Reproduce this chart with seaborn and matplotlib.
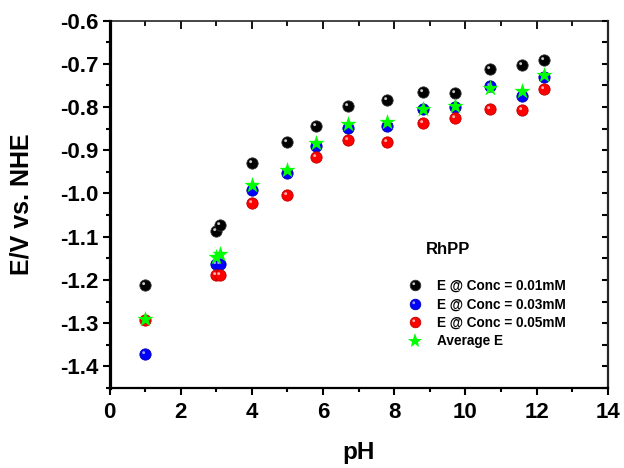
import numpy as np
import pandas as pd
import matplotlib
matplotlib.use("Agg")
import matplotlib.pyplot as plt
import seaborn as sns
from matplotlib.path import Path
from matplotlib.lines import Line2D
from matplotlib.legend_handler import HandlerTuple
from matplotlib.ticker import MultipleLocator

# ---- data ----
ph = [1.0, 3.0, 3.1, 4.0, 5.0, 5.8, 6.7, 7.8, 8.8, 9.7, 10.7, 11.6, 12.2]
e_001 = [-1.212, -1.086, -1.072, -0.929, -0.881, -0.845, -0.797, -0.784, -0.766, -0.767, -0.713, -0.703, -0.691]
e_003 = [-1.372, -1.163, -1.163, -0.991, -0.953, -0.891, -0.848, -0.843, -0.804, -0.801, -0.751, -0.774, -0.731]
e_005 = [-1.292, -1.188, -1.188, -1.022, -1.004, -0.916, -0.876, -0.882, -0.838, -0.825, -0.804, -0.808, -0.759]
e_avg = [-1.291, -1.146, -1.140, -0.980, -0.946, -0.883, -0.840, -0.835, -0.804, -0.797, -0.755, -0.762, -0.727]
labels = ["E @ Conc = 0.01mM", "E @ Conc = 0.03mM", "E @ Conc = 0.05mM", "Average E"]
x_ticks = [0, 2, 4, 6, 8, 10, 12, 14]
y_ticks = [-1.4, -1.3, -1.2, -1.1, -1.0, -0.9, -0.8, -0.7, -0.6]

sns.set_style("white")
plt.rcParams["font.family"] = ["Liberation Sans", "DejaVu Sans"]
plt.rcParams["font.weight"] = "bold"
plt.rcParams["text.color"] = "black"
plt.rcParams["axes.labelcolor"] = "black"
plt.rcParams["xtick.color"] = "black"
plt.rcParams["ytick.color"] = "black"

fig = plt.figure(figsize=(6.24, 4.68), dpi=100)
ax = fig.add_axes([0.1755, 0.171, 0.7985, 0.785])

# highlight marker: small circle offset to upper-left, with invisible moveto points for scaling
circ = Path.circle(center=(-0.33, 0.33), radius=0.26)
hl_verts = np.vstack([[[1.0, 1.0]], [[-1.0, -1.0]], circ.vertices])
hl_codes = np.concatenate([[Path.MOVETO, Path.MOVETO], circ.codes])
hl_path = Path(hl_verts, hl_codes)

sphere_series = [
    (e_001, "#000000", "#c8c8c8", "#333333"),
    (e_003, "#0000ff", "#9c9cff", "#0000b0"),
    (e_005, "#ff0000", "#ffb0b0", "#c00000"),
]
S = 66
for vals, col, hl, edge in sphere_series:
    df = pd.DataFrame({"pH": ph, "E": vals})
    sns.scatterplot(data=df, x="pH", y="E", ax=ax, color=col, marker="o", s=S,
                    edgecolor=edge, linewidth=0.6, zorder=3, legend=False)
    sns.scatterplot(data=df, x="pH", y="E", ax=ax, color=hl, marker=hl_path, s=S,
                    linewidth=0, zorder=3.1, legend=False)

df_avg = pd.DataFrame({"pH": ph, "E": e_avg})
sns.scatterplot(data=df_avg, x="pH", y="E", ax=ax, color="#00ff00", marker="*", s=150,
                linewidth=0, zorder=4, legend=False)

ax.set_xlim(0, 14)
ax.set_ylim(-1.45, -0.6)
ax.set_xticks(x_ticks)
ax.set_yticks(y_ticks)
ax.set_yticklabels([f"{v:.1f}" for v in y_ticks])
ax.xaxis.set_minor_locator(MultipleLocator(1))
ax.yaxis.set_minor_locator(MultipleLocator(0.05))
ax.tick_params(axis="both", which="major", direction="out", length=5, width=1.5,
               labelsize=16, colors="black")
ax.tick_params(axis="both", which="minor", direction="out", length=3, width=1.5)
ax.tick_params(axis="x", which="both", bottom=True, top=False, pad=5)
ax.tick_params(axis="y", which="both", left=True, right=False, pad=3)
for lab in ax.get_xticklabels() + ax.get_yticklabels():
    lab.set_fontweight("bold")

ax.spines["left"].set_linewidth(2.3)
ax.spines["bottom"].set_linewidth(1.6)
ax.spines["top"].set_visible(False)
ax.spines["right"].set_visible(False)
for s in ax.spines.values():
    s.set_color("black")

top = ax.secondary_xaxis("top")
top.set_xticks(x_ticks)
top.xaxis.set_minor_locator(MultipleLocator(1))
top.tick_params(which="major", direction="in", length=6, width=1.3, labeltop=False)
top.tick_params(which="minor", direction="in", length=3.5, width=1.3)
top.spines["top"].set_linewidth(1.2)

right = ax.secondary_yaxis("right")
right.set_yticks(y_ticks)
right.yaxis.set_minor_locator(MultipleLocator(0.05))
right.tick_params(which="major", direction="in", length=4, width=1.5, labelright=False)
right.tick_params(which="minor", direction="in", length=4, width=1.5)
right.spines["right"].set_linewidth(1.6)

ax.set_xlabel("pH", fontsize=17.5, fontweight="bold", labelpad=13, color="black")
ax.set_ylabel("E/V vs. NHE", fontsize=18, fontweight="bold", labelpad=19, color="black")

# legend
handles = []
for vals, col, hl, edge in sphere_series:
    base = Line2D([], [], linestyle="none", marker="o", markersize=7.6, markerfacecolor=col,
                  markeredgecolor=edge, markeredgewidth=0.6)
    high = Line2D([], [], linestyle="none", marker=hl_path, markersize=7.6,
                  markerfacecolor=hl, markeredgewidth=0)
    handles.append((base, high))
handles.append(Line2D([], [], linestyle="none", marker="*", markersize=11,
                      markerfacecolor="#00ff00", markeredgewidth=0))
leg = ax.legend(handles, labels, handler_map={tuple: HandlerTuple(ndivide=1)},
                frameon=False, loc="upper left", bbox_to_anchor=(0.581, 0.322),
                prop={"size": 9.8, "weight": "bold"}, handlelength=1.0,
                handletextpad=1.1, labelspacing=0.32, borderpad=0.2)

ax.text(0.634, 0.378, "RhPP", transform=ax.transAxes, fontsize=12, fontweight="bold",
        va="center", ha="left")

fig.savefig("out.png", dpi=100)
